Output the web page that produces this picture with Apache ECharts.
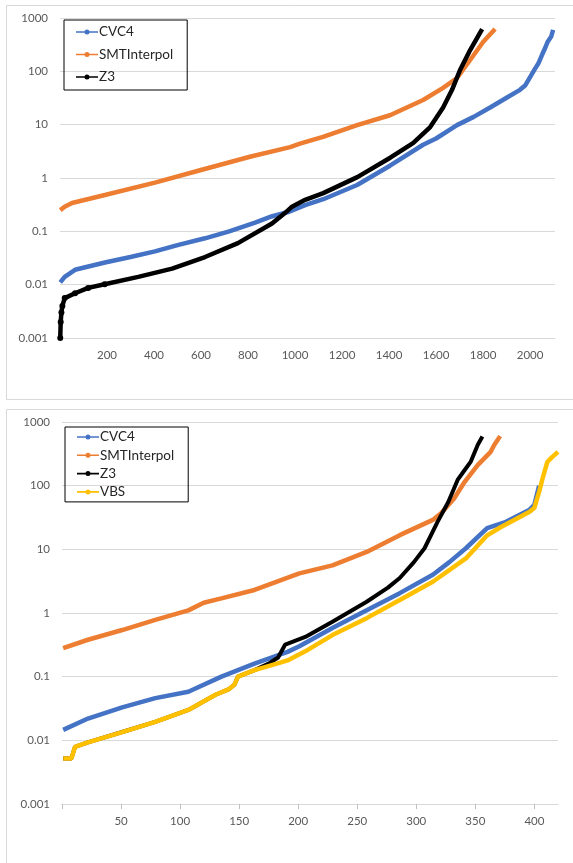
<!DOCTYPE html>
<html>
<head>
<meta charset="utf-8">
<script src="https://cdn.jsdelivr.net/npm/echarts@6/dist/echarts.min.js"></script>
<style>
  html, body { margin: 0; padding: 0; background: #fff; }
  #main { width: 573px; height: 863px; }
</style>
</head>
<body>
<div id="main"></div>
<script>
// y tick labels shared by both log axes (index = log10 + 3)
var yTickLabels = ['0.001', '0.01', '0.1', '1', '10', '100', '1000']

// top chart: solved instance index vs time
var topNames = ['CVC4', 'SMTInterpol', 'Z3']
var topCvc4 = [[1, 0.011], [20, 0.014], [64, 0.019], [191, 0.026], [300, 0.033], [404, 0.042],
  [500, 0.055], [617, 0.074], [720, 0.1], [830, 0.145], [900, 0.19], [970, 0.23], [1043, 0.31],
  [1120, 0.4], [1264, 0.74], [1404, 1.7], [1545, 4.2], [1600, 5.5], [1689, 9.8], [1760, 14],
  [1830, 21], [1900, 32], [1957, 45], [1980, 55], [2000, 78], [2020, 110], [2035, 140],
  [2050, 200], [2065, 280], [2075, 360], [2090, 450], [2098, 600]]
var topSmt = [[1, 0.25], [20, 0.29], [51, 0.34], [191, 0.48], [404, 0.82], [596, 1.4], [808, 2.5],
  [979, 3.8], [1021, 4.4], [1119, 5.9], [1264, 9.8], [1404, 15], [1545, 29], [1630, 49],
  [1689, 75], [1745, 163], [1800, 355], [1851, 620]]
var topZ3 = [[1, 0.001], [3, 0.002], [6, 0.003], [10, 0.004], [20, 0.0056], [64, 0.0069],
  [120, 0.0087], [190, 0.0102], [333, 0.014], [477, 0.02], [617, 0.033], [757, 0.06],
  [902, 0.14], [957, 0.22], [987, 0.29], [1043, 0.39], [1120, 0.52], [1265, 1.04],
  [1405, 2.4], [1502, 4.5], [1575, 9], [1630, 21], [1668, 45], [1702, 106], [1745, 251],
  [1796, 620]]

// bottom chart
var bottomNames = ['CVC4', 'SMTInterpol', 'Z3', 'VBS']
var bottomCvc4 = [[1, 0.0146], [22, 0.022], [51, 0.033], [79, 0.046], [107, 0.058], [135, 0.1],
  [163, 0.16], [191, 0.245], [201, 0.3], [229, 0.58], [258, 1.1], [286, 2.05], [314, 4],
  [328, 6.3], [342, 10.4], [360, 21.5], [376, 27], [396, 42], [400, 50], [404, 100]]
var bottomSmt = [[1, 0.28], [22, 0.38], [51, 0.54], [79, 0.78], [107, 1.1], [120, 1.45],
  [135, 1.7], [163, 2.3], [201, 4.2], [229, 5.6], [258, 9.1], [286, 16.7], [314, 29],
  [321, 37], [332, 63], [341, 115], [352, 210], [363, 340], [366, 435], [371, 600]]
var bottomZ3 = [[1, 0.0052], [8, 0.0052], [11, 0.0079], [22, 0.0093], [51, 0.0135], [79, 0.0195],
  [107, 0.03], [130, 0.052], [141, 0.063], [146, 0.075], [149, 0.1], [163, 0.127], [175, 0.16],
  [183, 0.2], [189, 0.32], [206, 0.42], [229, 0.73], [258, 1.5], [276, 2.5], [286, 3.55],
  [298, 6.3], [307, 10.4], [318, 27], [327, 55], [335, 123], [341, 176], [346, 236],
  [352, 435], [356, 590]]
var bottomVbs = [[1, 0.0052], [8, 0.0052], [11, 0.0079], [22, 0.0093], [51, 0.0135], [79, 0.0195],
  [107, 0.03], [130, 0.052], [141, 0.063], [146, 0.075], [149, 0.1], [163, 0.127], [182, 0.16],
  [191, 0.18], [206, 0.25], [229, 0.45], [258, 0.83], [286, 1.6], [314, 3.1], [342, 7.2],
  [360, 16.6], [371, 22], [396, 39], [400, 45], [404, 80], [407, 131], [411, 236], [415, 280],
  [420, 340]]

var colors = { CVC4: '#4472C4', SMTInterpol: '#ED7D31', Z3: '#000000', VBS: '#FFC000' }
var font = 'Lato, "Open Sans", sans-serif'
// legend marker: thin line with a small dot in the middle (Excel style)
var legendIcon = 'path://M0,2.2H8.7V3.8H0Z M13.3,2.2H22V3.8H13.3Z M8.5,3A2.5,2.5 0 1 1 13.5,3A2.5,2.5 0 1 1 8.5,3Z'

function yAxisFor (gridIndex) {
  return {
    type: 'log',
    logBase: 10,
    gridIndex: gridIndex,
    min: 0.001,
    max: 1000,
    axisLine: { show: false },
    axisTick: { show: false },
    axisLabel: {
      color: '#595959',
      fontFamily: font,
      fontSize: 11.5,
      margin: 12,
      formatter: function (v) {
        return yTickLabels[Math.round(Math.log10(v)) + 3]
      }
    },
    splitLine: { lineStyle: { color: '#d9d9d9', width: 1 } }
  }
}

function lineSeries (name, data, idx, extra) {
  var s = {
    name: name,
    type: 'line',
    xAxisIndex: idx,
    yAxisIndex: idx,
    data: data,
    symbol: 'circle',
    symbolSize: 5,
    showSymbol: false,
    color: colors[name],
    lineStyle: { width: 4.5, color: colors[name] },
    itemStyle: { color: colors[name] },
    emphasis: { disabled: true }
  }
  return Object.assign(s, extra || {})
}

function legendFor (names, left, top, gap, pad) {
  return {
    data: names.map(function (n) { return { name: n, icon: legendIcon } }),
    orient: 'vertical',
    left: left,
    top: top,
    padding: pad,
    itemGap: gap,
    itemWidth: 22,
    itemHeight: 5,
    borderColor: '#000',
    borderWidth: 1,
    textStyle: { fontFamily: font, fontSize: 13.5, color: '#262626', padding: [0, 0, 0, -4] }
  }
}

var chartDom = document.getElementById('main')
var myChart = echarts.init(chartDom, null, { renderer: 'canvas' })
var option

option = {
  animation: false,
  backgroundColor: '#fff',
  graphic: [
    { type: 'rect', shape: { x: 6.5, y: 5.5, width: 580, height: 394 }, style: { fill: 'none', stroke: '#d9d9d9', lineWidth: 1 } },
    { type: 'rect', shape: { x: 6.5, y: 409.5, width: 580, height: 470 }, style: { fill: 'none', stroke: '#d9d9d9', lineWidth: 1 } }
  ],
  grid: [
    { left: 60, right: 18, top: 18, height: 320 },
    { left: 62, right: 15, top: 422, height: 382 }
  ],
  legend: [
    legendFor(topNames, 64, 20, 8.5, [5, 14, 6, 12]),
    legendFor(bottomNames, 65, 427, 4.3, [3, 14, 3, 12])
  ],
  xAxis: [
    {
      type: 'value',
      gridIndex: 0,
      min: 0,
      max: 2106,
      interval: 200,
      axisLine: { lineStyle: { color: '#d9d9d9' } },
      axisTick: { show: false },
      splitLine: { show: false },
      axisLabel: {
        color: '#595959',
        fontFamily: font,
        fontSize: 11.5,
        margin: 11,
        showMaxLabel: false,
        formatter: function (v) { return v === 0 ? '' : String(v) }
      }
    },
    {
      type: 'value',
      gridIndex: 1,
      min: 0,
      max: 420,
      interval: 50,
      axisLine: { lineStyle: { color: '#d9d9d9' } },
      axisTick: { show: true, length: 5, lineStyle: { color: '#bfbfbf' } },
      splitLine: { show: false },
      axisLabel: {
        color: '#595959',
        fontFamily: font,
        fontSize: 11.5,
        margin: 11,
        showMaxLabel: false,
        formatter: function (v) { return v === 0 ? '' : String(v) }
      }
    }
  ],
  yAxis: [yAxisFor(0), yAxisFor(1)],
  series: [
    lineSeries('CVC4', topCvc4, 0),
    lineSeries('SMTInterpol', topSmt, 0),
    // only the first few Z3 points show their markers, as in the source
    lineSeries('Z3', topZ3, 0, {
      showSymbol: true,
      symbolSize: function (v) { return v[0] < 200 ? 6 : 0 }
    }),
    lineSeries('CVC4', bottomCvc4, 1),
    lineSeries('SMTInterpol', bottomSmt, 1),
    // Z3 runs under VBS where they coincide, keep it a touch thinner
    lineSeries('Z3', bottomZ3, 1, { lineStyle: { width: 4, color: colors.Z3 } }),
    lineSeries('VBS', bottomVbs, 1)
  ]
};

option && myChart.setOption(option)

window.addEventListener('resize', () => {
  myChart.resize()
})
</script>
</body>
</html>
